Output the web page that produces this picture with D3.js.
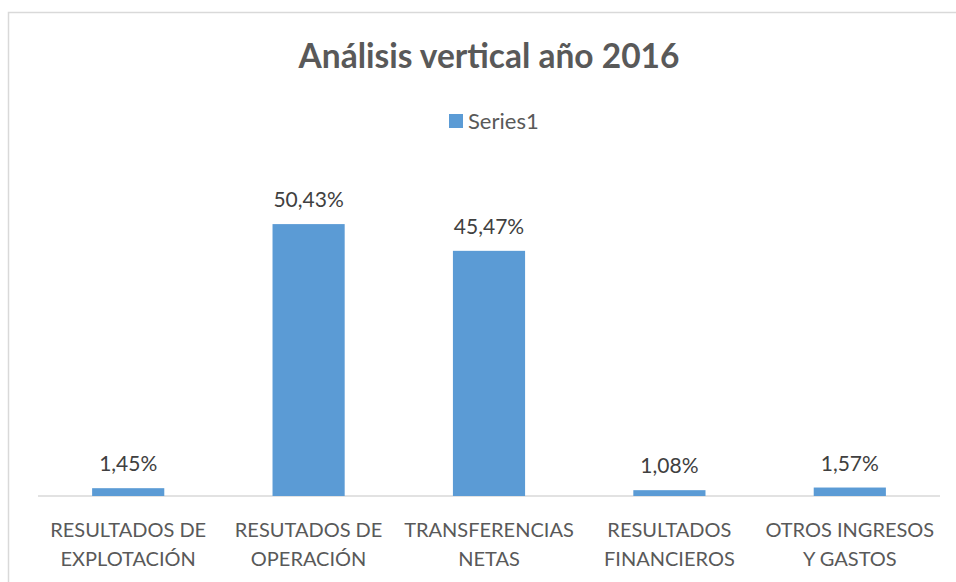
<!DOCTYPE html>
<html>
<head>
<meta charset="utf-8">
<script src="https://cdn.jsdelivr.net/npm/d3@7"></script>
<style>
  body { margin: 0; background: #fff; }
  text { font-family: Lato, "Open Sans", sans-serif; }
</style>
</head>
<body>
<div id="chart"></div>
<script>
var categories = [
  "RESULTADOS DE\nEXPLOTACIÓN",
  "RESUTADOS DE\nOPERACIÓN",
  "TRANSFERENCIAS\nNETAS",
  "RESULTADOS\nFINANCIEROS",
  "OTROS INGRESOS\nY GASTOS"
];
var values = [1.45, 50.43, 45.47, 1.08, 1.57];
var seriesName = "Series1";
var title = "Análisis vertical año 2016";

var svgWidth = 956;
var svgHeight = 582;

var margin = { top: 172.5, right: 16, bottom: 86, left: 38 };
var width = svgWidth - margin.left - margin.right;
var height = svgHeight - margin.top - margin.bottom;

var svg = d3.select("#chart")
  .append("svg")
  .attr("width", svgWidth)
  .attr("height", svgHeight);

// chart frame (runs off the right/bottom edge in the reference)
svg.append("rect")
  .attr("x", 8.5)
  .attr("y", 12.5)
  .attr("width", 1000)
  .attr("height", 700)
  .attr("fill", "none")
  .attr("stroke", "#d9d9d9")
  .attr("stroke-width", 1.5);

svg.append("text")
  .attr("x", 489)
  .attr("y", 68)
  .attr("text-anchor", "middle")
  .attr("font-size", 33.5)
  .attr("font-weight", "bold")
  .attr("fill", "#595959")
  .text(title);

// legend
var legend = svg.append("g").attr("transform", "translate(449,114)");
legend.append("rect")
  .attr("width", 14).attr("height", 14)
  .attr("fill", "#5b9bd5");
legend.append("text")
  .attr("x", 19).attr("y", 15)
  .attr("font-size", 22)
  .attr("fill", "#595959")
  .text(seriesName);

var chartGroup = svg.append("g")
  .attr("transform", `translate(${margin.left}, ${margin.top})`);

var x = d3.scaleBand()
  .domain(categories)
  .range([0, width])
  .padding(0);

var y = d3.scaleLinear()
  .domain([0, 60])
  .range([height, 0]);

var barW = x.bandwidth() * 0.4;

// baseline
chartGroup.append("line")
  .attr("x1", 0).attr("x2", width)
  .attr("y1", y(0)).attr("y2", y(0))
  .attr("stroke", "#d9d9d9")
  .attr("stroke-width", 1.5);

chartGroup.selectAll("rect.bar")
  .data(values)
  .enter()
  .append("rect")
  .attr("class", "bar")
  .attr("x", (d, i) => x(categories[i]) + (x.bandwidth() - barW) / 2)
  .attr("y", d => y(d))
  .attr("width", barW)
  .attr("height", d => y(0) - y(d))
  .attr("fill", "#5b9bd5");

chartGroup.selectAll("text.val")
  .data(values)
  .enter()
  .append("text")
  .attr("class", "val")
  .attr("x", (d, i) => x(categories[i]) + x.bandwidth() / 2)
  .attr("y", d => y(d) - 17)
  .attr("text-anchor", "middle")
  .attr("font-size", 21)
  .attr("fill", "#404040")
  .text(d => d.toFixed(2).replace(".", ",") + "%");

// category axis labels
var xAxis = chartGroup.append("g")
  .attr("transform", `translate(0, ${height})`);

var ticks = xAxis.selectAll("g.tick")
  .data(categories)
  .enter()
  .append("g")
  .attr("class", "tick")
  .attr("transform", d => `translate(${x(d) + x.bandwidth() / 2}, 0)`);

ticks.each(function(d) {
  var t = d3.select(this).append("text")
    .attr("text-anchor", "middle")
    .attr("font-size", 20)
    .attr("fill", "#595959");
  d.split("\n").forEach(function(line, k) {
    t.append("tspan")
      .attr("x", 0)
      .attr("y", 41 + k * 29)
      .text(line);
  });
});
</script>
</body>
</html>
